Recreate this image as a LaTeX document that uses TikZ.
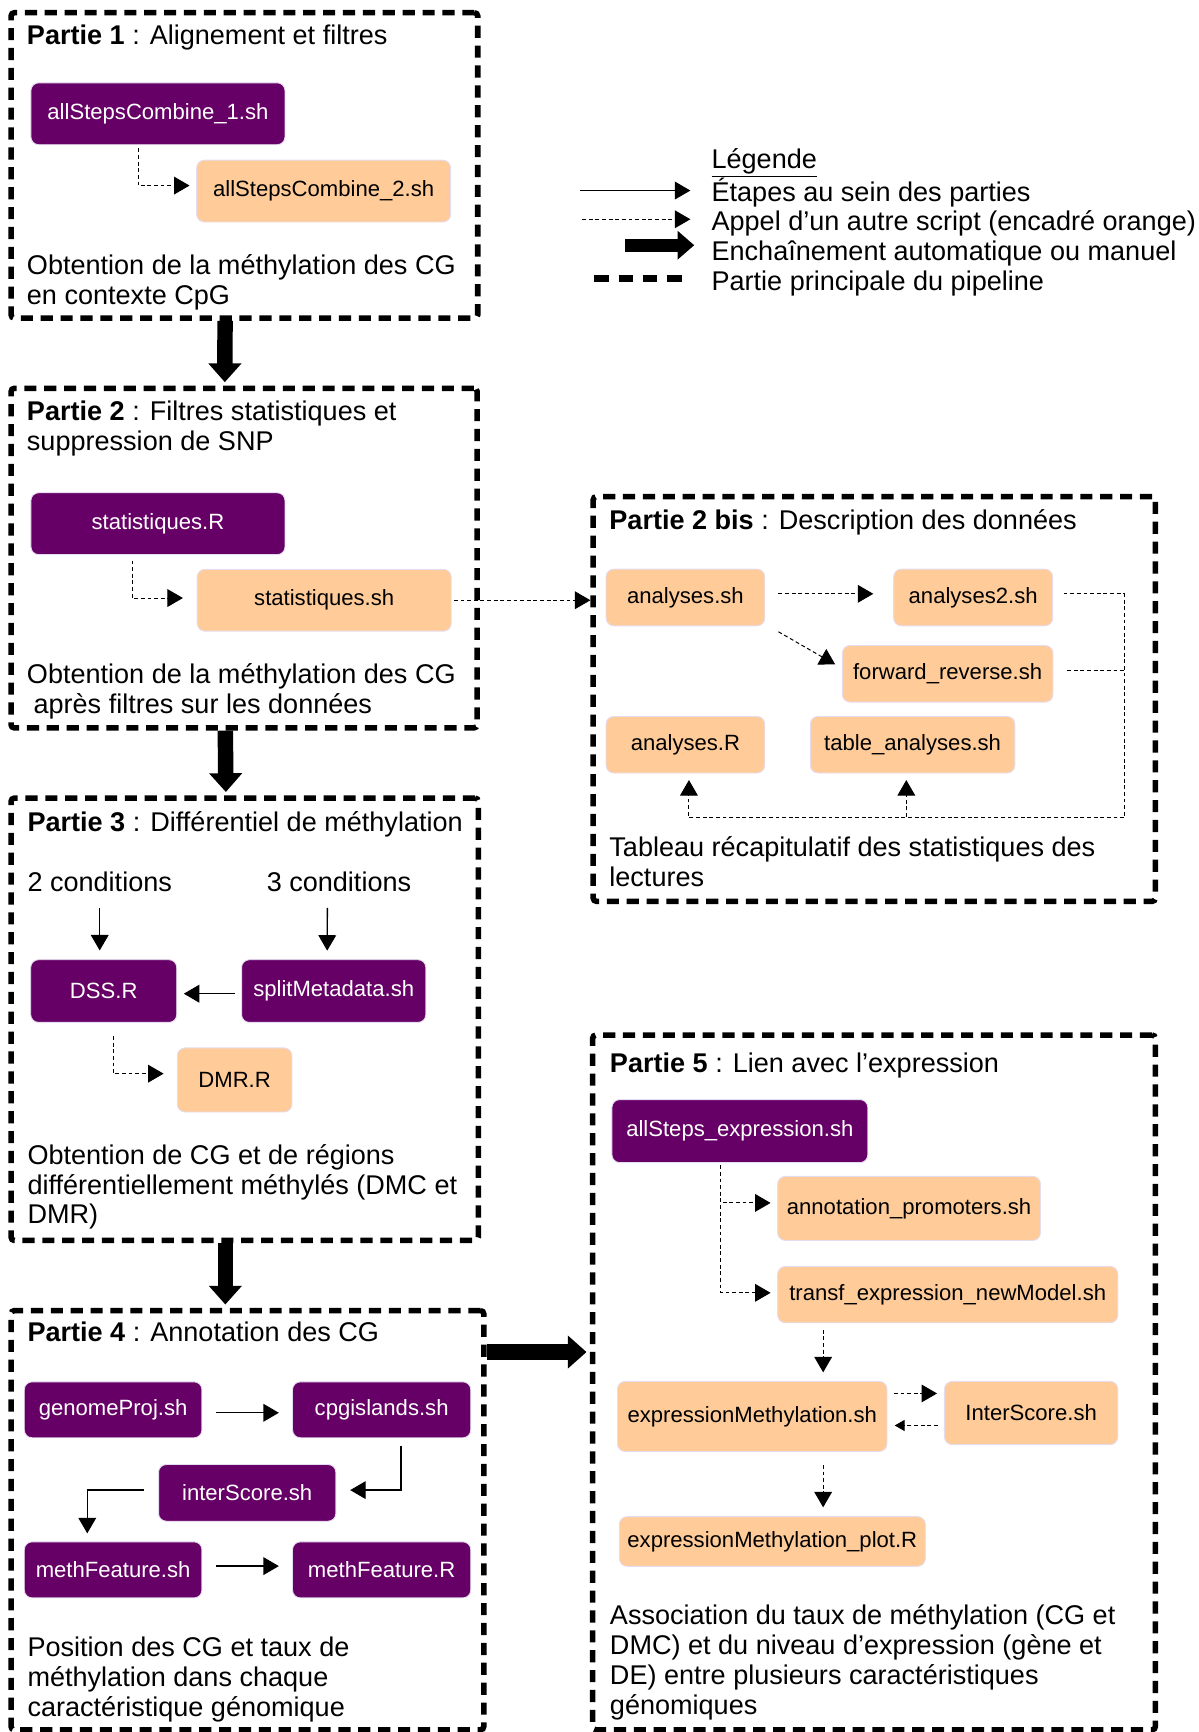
\documentclass[tikz,border=0pt]{standalone}
\usepackage{fontspec}
\setmainfont{Liberation Sans}
\usepackage{tikz}
\usetikzlibrary{arrows.meta}
\definecolor{scriptpurple}{HTML}{660066}
\definecolor{calledorange}{HTML}{FFCC99}
\definecolor{boxedge}{HTML}{E6DCF0}
\newcommand\txtfont{\fontsize{24.5pt}{27pt}\selectfont}
\newcommand\boxfont{\fontsize{20pt}{24pt}\selectfont}
\tikzstyle{partie}=[draw, line width=5pt, dash pattern=on 11pt off 7pt, rounded corners=3pt, inner sep=0pt]
\tikzstyle{script}=[rectangle, rounded corners=7pt, draw=boxedge, line width=0.8pt,
                    fill=scriptpurple, text=white, font=\boxfont, inner sep=0pt]
\tikzstyle{called}=[script, fill=calledorange, text=black]
% base = ligne du bas pour les textes sur plusieurs lignes
\tikzstyle{texte}=[anchor=base west, inner sep=0pt, align=left, font=\txtfont]
\tikzstyle{etape}=[->, line width=1.2pt]
\tikzstyle{appel}=[->, line width=0.9pt, dash pattern=on 3.5pt off 2.5pt]
\tikzstyle{appelsimple}=[line width=0.9pt, dash pattern=on 3.5pt off 2.5pt]
\tikzstyle{enchainement}=[-{Triangle[length=17pt,width=29pt]}, line width=14pt]

\begin{document}
\begin{tikzpicture}[x=1pt, y=-1pt, >={Triangle[length=14pt,width=16pt]}]
    \useasboundingbox (0,0) rectangle (1085,1568);
    % les parties
    \node[partie, minimum width=422.5pt, minimum height=276.5pt] (p1) at (221.25,149.75) {};
    \node[partie, minimum width=422pt, minimum height=307.5pt] (p2) at (221,505.25) {};
    \node[partie, minimum width=509pt, minimum height=366.5pt] (p2b) at (791.5,632.75) {};
    \node[partie, minimum width=423pt, minimum height=400.5pt] (p3) at (221.5,922.75) {};
    \node[partie, minimum width=428pt, minimum height=379.5pt] (p4) at (224,1376.25) {};
    \node[partie, minimum width=509.5pt, minimum height=629pt] (p5) at (791.25,1251.5) {};

    % Partie 1
    \node[texte] (t1) at (24.2,40) {\textbf{Partie 1} : Alignement et filtres};
    \node[script, minimum width=230pt, minimum height=56pt] (as1) at (143,103) {allStepsCombine\_1.sh};
    \node[called, minimum width=230pt, minimum height=56pt] (as2) at (293,173) {allStepsCombine\_2.sh};
    \node[texte] (b1) at (24.2,275.5) {Obtention de la méthylation des CG\\en contexte CpG};
    \draw[appel] ([xshift=-18pt,yshift=-3pt]as1.south) |- ([xshift=-6pt,yshift=5pt]as2.west);

    % Partie 2
    \node[texte] (t2) at (24.2,408) {\textbf{Partie 2} : Filtres statistiques et\\suppression de SNP};
    \node[script, minimum width=230pt, minimum height=56pt] (statR) at (143,474.1) {statistiques.R};
    \node[called, minimum width=230pt, minimum height=56pt] (statSh) at (293.5,543.4) {statistiques.sh};
    \node[texte] (b2) at (24.2,646) {Obtention de la méthylation des CG\\\hspace*{6pt}après filtres sur les données};
    \draw[appel] ([xshift=-23.5pt,yshift=-5pt]statR.south) |- ([xshift=-12.5pt,yshift=2pt]statSh.west);
    \draw[appel] ([xshift=2pt]statSh.east) -- (statSh.east -| p2b.west);

    % Partie 2 bis
    \node[texte] (t2b) at (551.5,479.6) {\textbf{Partie 2 bis} : Description des données};
    \node[called, minimum width=143.7pt, minimum height=51.3pt] (anaSh) at (620.5,540.9) {analyses.sh};
    \node[called, minimum width=144pt, minimum height=51.3pt] (ana2) at (881,540.9) {analyses2.sh};
    \node[called, minimum width=190.7pt, minimum height=51.3pt] (fwd) at (857.9,610) {forward\_reverse.sh};
    \node[called, minimum width=143.7pt, minimum height=51.2pt] (anaR) at (620.5,674.2) {analyses.R};
    \node[called, minimum width=185.2pt, minimum height=51.2pt] (tab) at (826.2,674.2) {table\_analyses.sh};
    \node[texte] (b2b) at (551.5,802.4) {Tableau récapitulatif des statistiques des\\lectures};
    \coordinate (boucle) at (1017.6,740.5);
    \coordinate (bouclef) at (1017.6,607);
    \draw[appel] ([xshift=12pt,yshift=3.3pt]anaSh.east) -- ([xshift=-18pt,yshift=3.3pt]ana2.west);
    \draw[appel] ([xshift=12pt,yshift=-5pt]anaSh.south east) -- ([xshift=-6pt,yshift=-17.6pt]fwd.north west);
    \draw[appelsimple] ([xshift=9.5pt,yshift=3.3pt]ana2.east) -| (boucle);
    \draw[appelsimple] ([xshift=12.5pt,yshift=3pt]fwd.east) -- (bouclef);
    \draw[appel] (boucle) -| ([xshift=3.2pt,yshift=-6pt]anaR.south);
    \draw[appel] (boucle) -| ([xshift=-5.7pt,yshift=-6pt]tab.south);

    % Partie 3
    \node[texte] (t3) at (24.7,752.7) {\textbf{Partie 3} : Différentiel de méthylation};
    \node[texte] (cond2) at (24.7,807) {2 conditions};
    \node[texte] (cond3) at (241.3,807) {3 conditions};
    \node[script, minimum width=132.2pt, minimum height=56.7pt] (dss) at (93.9,897.2) {DSS.R};
    \node[script, minimum width=166.8pt, minimum height=56.7pt] (split) at (302.1,897.2) {splitMetadata.sh};
    \node[called, minimum width=103.8pt, minimum height=58pt] (dmr) at (212.4,977.7) {DMR.R};
    \node[texte] (b3) at (24.7,1108) {Obtention de CG et de régions\\différentiellement méthylés (DMC et\\DMR)};
    \draw[etape, shorten <=15pt, shorten >=8pt] (cond2.base) -- (cond2.base |- dss.north);
    \draw[etape] ([xshift=-10.5pt,yshift=-15pt]cond3.base) -- ([xshift=-5.9pt,yshift=7.8pt]split.north);
    \draw[etape] ([xshift=-6pt,yshift=-2.4pt]split.west) -- ([xshift=6pt,yshift=-2.4pt]dss.east);
    \draw[appel] ([xshift=8.6pt,yshift=-12pt]dss.south) |- ([xshift=-12pt,yshift=5.7pt]dmr.west);

    % Partie 4
    \node[texte] (t4) at (24.7,1214.2) {\textbf{Partie 4} : Annotation des CG};
    \node[script, minimum width=160.8pt, minimum height=50.6pt] (gproj) at (102.4,1276.3) {genomeProj.sh};
    \node[script, minimum width=161.3pt, minimum height=50.6pt] (cpg) at (345.5,1276.3) {cpgislands.sh};
    \node[script, minimum width=160.5pt, minimum height=51.3pt] (inter) at (223.8,1351.5) {interScore.sh};
    \node[script, minimum width=160.8pt, minimum height=50.7pt] (mfsh) at (102.4,1421.2) {methFeature.sh};
    \node[script, minimum width=161.3pt, minimum height=50.7pt] (mfR) at (345.5,1421.2) {methFeature.R};
    \node[texte] (b4) at (24.7,1553.5) {Position des CG et taux de\\méthylation dans chaque\\caractéristique génomique};
    \draw[etape] ([xshift=12.4pt,yshift=-2.7pt]gproj.east) -- ([xshift=-12pt,yshift=-2.7pt]cpg.west);
    \draw[etape] ([xshift=17.4pt,yshift=-6.7pt]cpg.south) |- ([xshift=12.6pt,yshift=2.5pt]inter.east);
    \draw[etape] ([xshift=-12.4pt,yshift=2.5pt]inter.west) -| ([xshift=-23.4pt,yshift=7.3pt]mfsh.north);
    \draw[etape] ([xshift=12.4pt,yshift=3.4pt]mfsh.east) -- ([xshift=-12pt,yshift=3.4pt]mfR.west);

    % Partie 5
    \node[texte] (t5) at (552,971.3) {\textbf{Partie 5} : Lien avec l’expression};
    \node[script, minimum width=231.6pt, minimum height=57pt] (allexp) at (669.8,1024) {allSteps\_expression.sh};
    \node[called, minimum width=238pt, minimum height=58pt] (annot) at (823,1094) {annotation\_promoters.sh};
    \node[called, minimum width=308pt, minimum height=51pt] (transf) at (858,1172) {transf\_expression\_newModel.sh};
    \node[called, minimum width=244pt, minimum height=63.4pt] (exprM) at (681,1282.3) {expressionMethylation.sh};
    \node[called, minimum width=157pt, minimum height=57.2pt] (interS) at (933.5,1279.2) {InterScore.sh};
    \node[called, minimum width=277pt, minimum height=45pt] (plot) at (699.2,1395.5) {expressionMethylation\_plot.R};
    \node[texte] (b5) at (552,1552) {Association du taux de méthylation (CG et\\DMC) et du niveau d’expression (gène et\\DE) entre plusieurs caractéristiques\\génomiques};
    \draw[appel] ([xshift=-17.5pt,yshift=-2pt]allexp.south) |- ([xshift=-6pt,yshift=5pt]annot.west);
    \draw[appel] ([xshift=-17.5pt,yshift=-2pt]allexp.south) |- ([xshift=-6pt,yshift=1.6pt]transf.west);
    \draw[appel] ([xshift=-112.8pt,yshift=-6pt]transf.south) -- ([xshift=64.2pt,yshift=7.8pt]exprM.north);
    \draw[appel] ([xshift=5.9pt,yshift=20.8pt]exprM.east) -- ([xshift=-6.3pt,yshift=17.7pt]interS.west);
    \draw[appel, -{Triangle[length=9pt,width=10pt]}] ([xshift=-5.6pt,yshift=-11.3pt]interS.west) -- ([xshift=6.6pt,yshift=-8.2pt]exprM.east);
    \draw[appel] ([xshift=64.2pt,yshift=-11.8pt]exprM.south) -- ([xshift=46pt,yshift=8pt]plot.north);

    % enchainements
    \draw[enchainement, shorten >=3pt] ([xshift=-17.5pt]p1.south) -- ([xshift=-17.5pt]p2.north);
    \draw[enchainement, shorten >=3pt] ([xshift=-17pt]p2.south) -- ([xshift=-17pt]p3.north);
    \draw[enchainement, shorten >=3pt] ([xshift=-17.5pt]p3.south) -- ([xshift=-20pt]p4.north);
    \draw[enchainement, shorten >=3pt] ([yshift=152.25pt]p4.east) -- ([yshift=27.5pt]p5.west);

    % legende
    \node[texte] (leg) at (644,263) {\underline{Légende}\\Étapes au sein des parties\\Appel d’un autre script (encadré orange)\\Enchaînement automatique ou manuel\\Partie principale du pipeline};
    \coordinate (lg1a) at (525,172.5);
    \coordinate (lg1b) at (625,172.5);
    \coordinate (lg2a) at (527,198.5);
    \coordinate (lg2b) at (625,198.5);
    \coordinate (lg3a) at (566,222);
    \coordinate (lg3b) at (628.5,222);
    \coordinate (lg4a) at (538,252);
    \coordinate (lg4b) at (617.5,252);
    \draw[etape] (lg1a) -- (lg1b);
    \draw[appel] (lg2a) -- (lg2b);
    \draw[enchainement, -{Triangle[length=15pt,width=25pt]}, line width=12pt] (lg3a) -- (lg3b);
    \draw[line width=6pt, dash pattern=on 13pt off 9pt] (lg4a) -- (lg4b);
\end{tikzpicture}
\end{document}
